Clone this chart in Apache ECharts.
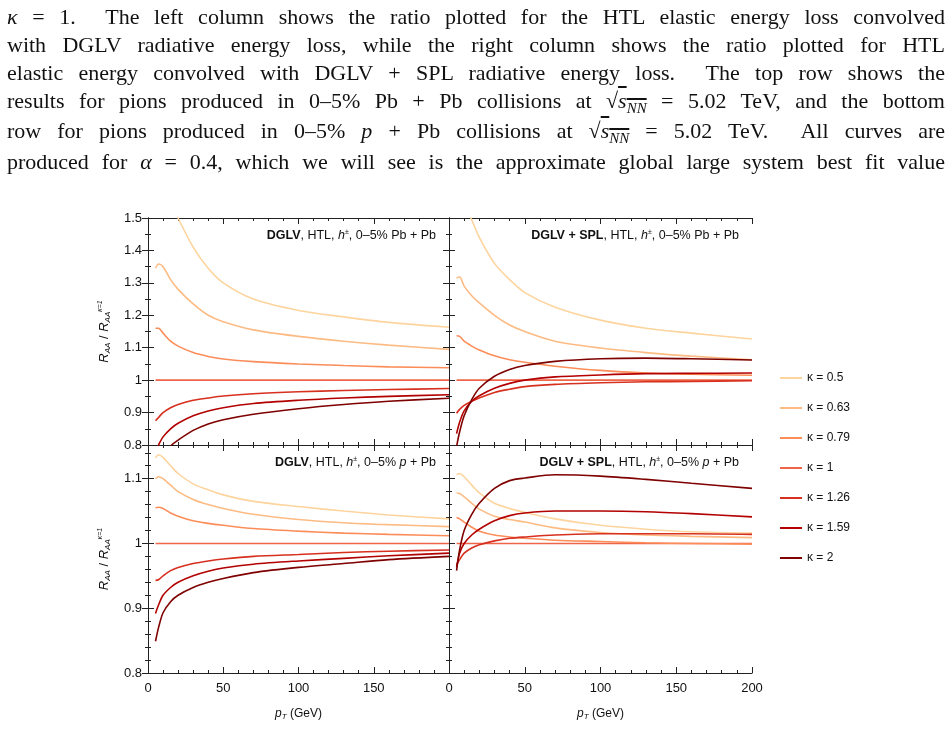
<!DOCTYPE html>
<html><head><meta charset="utf-8">
<script src="https://cdn.jsdelivr.net/npm/echarts@6/dist/echarts.min.js"></script>
<style>
html,body{margin:0;padding:0;background:#fff;}
#chart{position:absolute;left:0;top:0;width:952px;height:743px;}
.ln{position:absolute;left:7px;width:938px;font-family:"Liberation Serif","DejaVu Serif",serif;font-size:22px;line-height:26px;text-align:justify;text-align-last:justify;color:#111;white-space:nowrap;}
.ln.last{text-align-last:justify;}
.sq{text-decoration:overline;}
sub{font-size:15px;}
</style></head><body>
<div id="chart"></div>
<div class="ln" style="top:4px;white-space:normal"><i>κ</i> = 1. &nbsp;The left column shows the ratio plotted for the HTL elastic energy loss convolved</div>
<div class="ln" style="top:32px;white-space:normal">with DGLV radiative energy loss, while the right column shows the ratio plotted for HTL</div>
<div class="ln" style="top:60px;white-space:normal">elastic energy convolved with DGLV + SPL radiative energy loss. &nbsp;The top row shows the</div>
<div class="ln" style="top:88px;white-space:normal">results for pions produced in 0–5% Pb + Pb collisions at √<span class="sq"><i>s<sub>NN</sub></i></span> = 5.02 TeV, and the bottom</div>
<div class="ln" style="top:118px;white-space:normal">row for pions produced in 0–5% <i>p</i> + Pb collisions at √<span class="sq"><i>s<sub>NN</sub></i></span> = 5.02 TeV. &nbsp;All curves are</div>
<div class="ln" style="top:149px;white-space:normal">produced for <i>α</i> = 0.4, which we will see is the approximate global large system best fit value</div>
<script>
const pT = [5,7,10,15,20,30,40,50,70,100,130,160,200];
const kappas = ['κ = 0.5','κ = 0.63','κ = 0.79','κ = 1','κ = 1.26','κ = 1.59','κ = 2'];
const colors = ['#fdd49e','#fdbb84','#fc8d59','#ef6548','#d7301f','#b30000','#7f0000'];
// Top-left: DGLV, Pb+Pb
const dglvPbPb = [
 [1.75,1.70,1.62,1.55,1.50,1.41,1.345,1.30,1.25,1.215,1.195,1.178,1.163],
 [1.345,1.358,1.35,1.31,1.28,1.235,1.20,1.18,1.155,1.135,1.12,1.108,1.095],
 [1.16,1.16,1.145,1.12,1.105,1.085,1.073,1.065,1.057,1.05,1.045,1.041,1.038],
 [1,1,1,1,1,1,1,1,1,1,1,1,1],
 [0.875,0.885,0.90,0.915,0.925,0.938,0.945,0.951,0.958,0.964,0.968,0.971,0.974],
 [0.78,0.80,0.825,0.85,0.867,0.89,0.905,0.915,0.928,0.938,0.945,0.95,0.955],
 [0.74,0.755,0.77,0.797,0.815,0.845,0.865,0.878,0.895,0.912,0.925,0.935,0.944]
];
// Top-right: DGLV + SPL, Pb+Pb
const splPbPb = [
 [1.60,1.57,1.54,1.494,1.44,1.36,1.31,1.27,1.225,1.185,1.16,1.145,1.127],
 [1.315,1.318,1.29,1.26,1.238,1.20,1.17,1.15,1.12,1.099,1.085,1.074,1.063],
 [1.137,1.135,1.12,1.105,1.093,1.075,1.063,1.055,1.043,1.03,1.022,1.018,1.015],
 [1,1,1,1,1,1,1,1,1,1,1,1,1],
 [0.898,0.91,0.922,0.935,0.945,0.962,0.972,0.98,0.987,0.992,0.995,0.996,0.998],
 [0.835,0.87,0.905,0.935,0.952,0.975,0.99,1.0,1.01,1.016,1.02,1.021,1.022],
 [0.795,0.84,0.89,0.94,0.975,1.012,1.033,1.045,1.058,1.066,1.068,1.066,1.062]
];
// Bottom-left: DGLV, p+Pb
const dglvPPb = [
 [1.132,1.137,1.133,1.12,1.108,1.092,1.083,1.075,1.065,1.057,1.05,1.044,1.038],
 [1.10,1.103,1.10,1.09,1.08,1.068,1.06,1.054,1.045,1.037,1.032,1.029,1.026],
 [1.055,1.056,1.054,1.047,1.042,1.035,1.031,1.028,1.023,1.019,1.016,1.014,1.012],
 [1,1,1,1,1,1,1,1,1,1,1,1,1],
 [0.943,0.944,0.95,0.958,0.963,0.969,0.973,0.976,0.98,0.983,0.986,0.988,0.99],
 [0.892,0.905,0.92,0.932,0.94,0.95,0.957,0.962,0.968,0.973,0.977,0.981,0.985],
 [0.849,0.87,0.893,0.91,0.92,0.932,0.94,0.946,0.955,0.963,0.969,0.975,0.98]
];
// Bottom-right: DGLV + SPL, p+Pb
const splPPb = [
 [1.106,1.108,1.103,1.09,1.078,1.062,1.054,1.048,1.038,1.028,1.022,1.018,1.016],
 [1.078,1.077,1.072,1.062,1.053,1.042,1.037,1.033,1.024,1.017,1.013,1.011,1.009],
 [1.04,1.038,1.033,1.025,1.019,1.013,1.01,1.008,1.005,1.003,1.001,1.0,0.999],
 [1,1,1,1,1,1,1,1,1,1,1,1,1],
 [0.967,0.975,0.985,0.993,0.998,1.004,1.008,1.01,1.013,1.015,1.015,1.015,1.014],
 [0.963,0.985,1.0,1.013,1.022,1.035,1.043,1.047,1.05,1.05,1.049,1.046,1.041],
 [0.958,0.99,1.02,1.045,1.062,1.085,1.097,1.101,1.106,1.104,1.099,1.093,1.085]
];
const xTicks = [0,50,100,150,200];
const titles = [
 ['{b|DGLV}, HTL, {i|h}{s|±}, 0–5% Pb + Pb', 436, 229],
 ['{b|DGLV + SPL}, HTL, {i|h}{s|±}, 0–5% Pb + Pb', 739, 229],
 ['{b|DGLV}, HTL, {i|h}{s|±}, 0–5% {i|p} + Pb', 436, 456],
 ['{b|DGLV + SPL}, HTL, {i|h}{s|±}, 0–5% {i|p} + Pb', 739, 456]
];
const panels = [dglvPbPb, splPbPb, dglvPPb, splPPb];
const F = 'Liberation Sans, Arial, sans-serif';
const grids = [
 {left:148,top:218,width:301,height:227},
 {left:449,top:218,width:303,height:227},
 {left:148,top:445,width:301,height:228},
 {left:449,top:445,width:303,height:228}
];
const ax = '#222';
const xAxis=[], yAxis=[], series=[];
grids.forEach((g,i)=>{
  const bottom = i>=2, left = i%2===0;
  const common = {type:'value',gridIndex:i,axisLine:{show:true,lineStyle:{color:ax,width:1}},
    axisTick:{show:true,inside:true,length:6,lineStyle:{color:ax}},
    minorTick:{show:true,length:3,lineStyle:{color:ax}},splitLine:{show:false}};
  xAxis.push(Object.assign({},common,{min:0,max:200,interval:50,minorTick:{show:true,splitNumber:5,length:3,lineStyle:{color:ax}},
    axisLabel:{show:bottom,fontFamily:F,fontSize:13,color:'#111',margin:9,
      showMaxLabel:(i===3),formatter:v=>xTicks.includes(v)?String(v):''},
    name:bottom?'{i|p}{sub|T} (GeV)':'',nameLocation:'middle',nameGap:34,
    nameTextStyle:{fontFamily:F,fontSize:12,color:'#111',rich:{i:{fontStyle:'italic',fontFamily:F,fontSize:12},sub:{fontStyle:'italic',fontFamily:F,fontSize:8,verticalAlign:'bottom',padding:[6,0,0,0]}}}}));
  xAxis.push(Object.assign({},common,{min:0,max:200,interval:50,position:'top',minorTick:{show:true,splitNumber:5,length:3,lineStyle:{color:ax}},axisLabel:{show:false}}));
  const yr = bottom?{min:0.8,max:1.152,interval:0.1,split:5}:{min:0.8,max:1.5,interval:0.1,split:2};
  yAxis.push(Object.assign({},common,{min:yr.min,max:yr.max,interval:yr.interval,
    minorTick:{show:true,splitNumber:yr.split,length:3,lineStyle:{color:ax}},
    axisLabel:{show:left,fontFamily:F,fontSize:13,color:'#111',margin:6,showMaxLabel:!bottom,
      formatter:v=>{const r=Math.round(v*10)/10; return r===1?'1':r.toFixed(1);}},
    name:left?'{i|R}{sub|AA} / {i|R}{sub|AA}{sup|κ=1}':'',nameLocation:'middle',nameGap:36,
    nameTextStyle:{fontFamily:F,fontSize:13,color:'#111',rich:{i:{fontStyle:'italic',fontFamily:F,fontSize:13},sub:{fontStyle:'italic',fontFamily:F,fontSize:8,padding:[6,0,0,0]},sup:{fontStyle:'italic',fontFamily:F,fontSize:7,padding:[0,0,8,0]}}}}));
  yAxis.push(Object.assign({},common,{min:yr.min,max:yr.max,interval:yr.interval,position:'right',
    minorTick:{show:true,splitNumber:yr.split,length:3,lineStyle:{color:ax}},axisLabel:{show:false}}));
  panels[i].forEach((vals,k)=>{
    series.push({type:'line',name:kappas[k],xAxisIndex:2*i,yAxisIndex:2*i,showSymbol:false,symbol:'none',
      smooth:0.3,clip:true,color:colors[k],lineStyle:{color:colors[k],width:1.6},
      data:pT.map((x,j)=>[x,vals[j]]),z:k===3?1:2});
  });
});
const graphic = titles.map(t=>({type:'text',right:952-t[1],top:t[2],
  style:{text:t[0],fontFamily:F,fontSize:12.5,fill:'#111',
   rich:{b:{fontWeight:'bold',fontFamily:F,fontSize:12.5},i:{fontStyle:'italic',fontFamily:F,fontSize:12.5},s:{fontFamily:F,fontSize:7,verticalAlign:'top',padding:[0,0,6,0]}}}}));
const chart = echarts.init(document.getElementById('chart'));
chart.setOption({
  animation:false,
  grid:grids,xAxis,yAxis,series,graphic,
  legend:{orient:'vertical',left:775,top:366,itemGap:16,icon:'rect',itemWidth:22,itemHeight:2,
    data:kappas,textStyle:{fontFamily:F,fontSize:12,color:'#111',lineHeight:14}}
});
</script></body></html>
